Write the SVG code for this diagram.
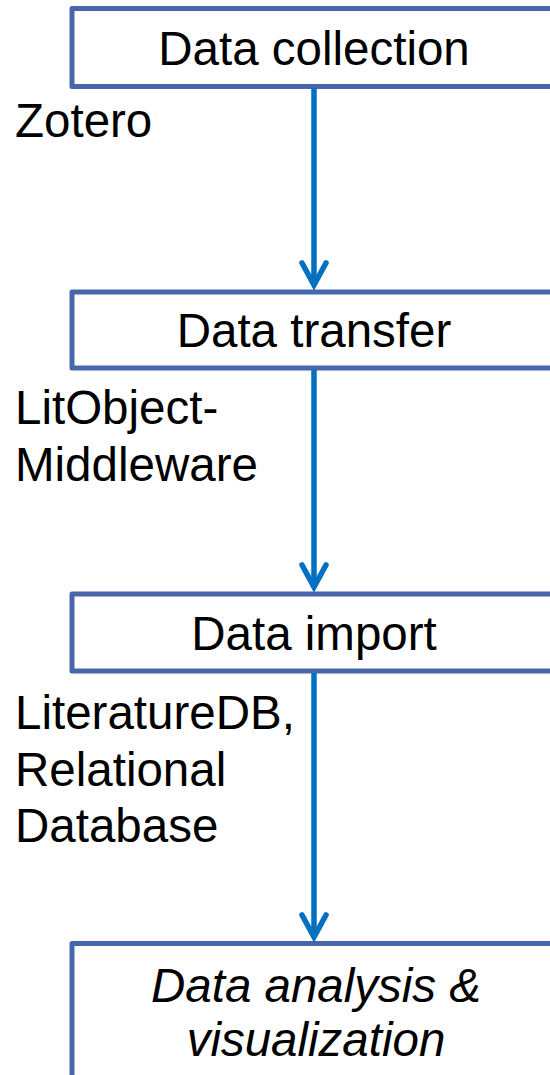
<svg xmlns="http://www.w3.org/2000/svg" width="550" height="1075" viewBox="0 0 550 1075">
  <style>
    .box { fill: #ffffff; stroke: #4866ac; stroke-width: 5; stroke-linejoin: round; }
    .lbl { font-family: "Liberation Sans", Arial, sans-serif; font-size: 47.5px; fill: #000000; }
    .mid { text-anchor: middle; }
    .it { font-style: italic; }
    .conn { stroke: #0070c0; stroke-width: 5.5; fill: none; }
  </style>
  <defs>
    <marker id="head" markerUnits="userSpaceOnUse" viewBox="-30 -16 36 32" refX="0" refY="0" markerWidth="36" markerHeight="32" orient="auto" overflow="visible">
      <path d="M-22,-12 L0,0 L-22,12" fill="none" stroke="#0070c0" stroke-width="5.5" stroke-linecap="round" stroke-linejoin="miter" stroke-miterlimit="10"/>
    </marker>
  </defs>

  <!-- process steps -->
  <g id="step-collection">
    <rect class="box" x="72" y="8.5" width="500" height="78"/>
    <text class="lbl mid" x="314" y="65">Data collection</text>
  </g>
  <g id="tool-zotero">
    <text class="lbl" x="15" y="137">Zotero</text>
  </g>

  <g id="step-transfer">
    <rect class="box" x="72" y="292" width="500" height="76"/>
    <text class="lbl mid" x="314" y="347">Data transfer</text>
  </g>
  <g id="tool-middleware">
    <text class="lbl" x="15" y="424">LitObject-</text>
    <text class="lbl" x="15" y="481">Middleware</text>
  </g>

  <g id="step-import">
    <rect class="box" x="72" y="594" width="500" height="77"/>
    <text class="lbl mid" x="314" y="650">Data import</text>
  </g>
  <g id="tool-database">
    <text class="lbl" x="15" y="729">LiteratureDB,</text>
    <text class="lbl" x="15" y="786">Relational</text>
    <text class="lbl" x="15" y="842">Database</text>
  </g>

  <g id="step-analysis">
    <rect class="box" x="72" y="943.5" width="500" height="200"/>
    <text class="lbl mid it" x="316" y="1002">Data analysis &amp;</text>
    <text class="lbl mid it" x="316" y="1056">visualization</text>
  </g>

  <!-- flow arrows -->
  <g id="connectors">
    <line class="conn" x1="314" y1="88" x2="314" y2="285" marker-end="url(#head)"/>
    <line class="conn" x1="314" y1="370" x2="314" y2="587" marker-end="url(#head)"/>
    <line class="conn" x1="314" y1="673" x2="314" y2="937" marker-end="url(#head)"/>
  </g>
</svg>
